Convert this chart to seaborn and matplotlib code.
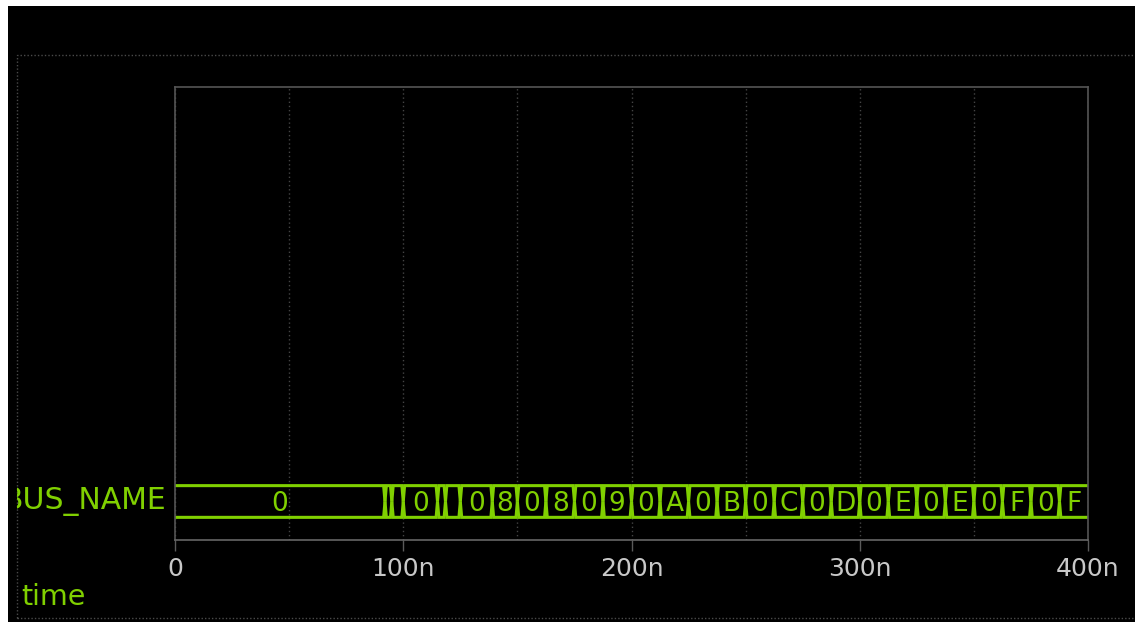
import numpy as np
import pandas as pd
import matplotlib
matplotlib.use("Agg")
import matplotlib.pyplot as plt
import seaborn as sns
from matplotlib.patches import Rectangle

# ---- data ----
signal_name = "BUS_NAME"
axis_name = "time"
seg_starts = [0, 92, 95, 100, 115, 118.5, 125, 139, 150, 162.5, 175, 187.5, 200,
              212.5, 225, 237.5, 250, 262.5, 275, 287.5, 300, 312.5, 325, 337.5,
              350, 362.5, 375, 387.5]
seg_values = ["0", "1", "2", "0", "3", "4", "0", "8", "0", "8", "0", "9", "0",
              "A", "0", "B", "0", "C", "0", "D", "0", "E", "0", "E",
              "0", "F", "0", "F"]
t_end = 400
tick_values = [0, 100, 200, 300, 400]
tick_labels = ["0", "100n", "200n", "300n", "400n"]
grid_minor = [50, 150, 250, 350]

# ---- style ----
GREEN = "#80d000"
sns.set_theme(style="dark")
plt.rcParams["font.family"] = ["DejaVu Sans"]

W, H, DPI = 1135, 622, 100
fig = plt.figure(figsize=(W / DPI, H / DPI), dpi=DPI, facecolor="white")

# black canvas (white margin on top / left as in reference)
fig.patches.append(Rectangle((8 / W, 0), (W - 8) / W, (H - 6) / H,
                             transform=fig.transFigure, facecolor="black",
                             edgecolor="none", zorder=-10))
# dotted outer frame
fig.patches.append(Rectangle((17 / W, 4 / H), (1140 - 17) / W, (567 - 4) / H,
                             transform=fig.transFigure, fill=False,
                             edgecolor="#4a4a4a", linestyle=(0, (1, 1.5)),
                             linewidth=1.0, zorder=-5))

ax_l, ax_r, ax_t, ax_b = 175, 1088, 87, 540
ax = fig.add_axes([ax_l / W, (H - ax_b) / H, (ax_r - ax_l) / W, (ax_b - ax_t) / H])
ax.set_facecolor("none")

LO, HI = 1.0, 2.4
MID = (LO + HI) / 2
d = 0.6

rows = []
ends = seg_starts[1:] + [t_end]
for i, (t0, t1) in enumerate(zip(seg_starts, ends)):
    first = i == 0
    last = i == len(seg_starts) - 1
    for part, lvl in (("top", HI), ("bot", LO)):
        pts = []
        if first:
            pts.append((t0, lvl))
        else:
            pts += [(t0, MID), (t0 + d, lvl)]
        if last:
            pts.append((t1, lvl))
        else:
            pts += [(t1 - d, lvl), (t1, MID)]
        for k, (x, y) in enumerate(pts):
            rows.append({"unit": f"{i}_{part}", "order": k, "x": x, "y": y})
df = pd.DataFrame(rows)

sns.lineplot(data=df, x="x", y="y", units="unit", estimator=None, sort=False,
             color=GREEN, linewidth=2.2, ax=ax, legend=False,
             solid_joinstyle="miter", solid_capstyle="butt")

for t0, t1, v in zip(seg_starts, ends, seg_values):
    if t1 - t0 >= 10:
        ax.text((t0 + t1) / 2, MID, v, ha="center", va="center_baseline",
                fontsize=19, color=GREEN)

ax.set_xlim(0, t_end)
ax.set_ylim(0, 20)
ax.set_xlabel("")
ax.set_ylabel("")
ax.set_yticks([])
ax.set_xticks(tick_values)
ax.set_xticklabels(tick_labels)
ax.set_xticks(grid_minor, minor=True)
ax.tick_params(axis="x", which="major", direction="out", length=8, width=1,
               color="#5a5a5a", labelcolor="#c8c8c8", labelsize=18, pad=4,
               bottom=True)
ax.tick_params(axis="x", which="minor", length=0, bottom=False)
ax.grid(True, axis="x", which="both", color="#444444", linestyle=(0, (1, 2)),
        linewidth=1.0)
ax.grid(False, axis="y")
for s in ax.spines.values():
    s.set_visible(True)
    s.set_color("#555555")
    s.set_linewidth(1.2)
ax.spines["bottom"].set_color("#666666")

# label axes for the signal name (clipped at the dotted frame)
lab = fig.add_axes([17 / W, (H - ax_b) / H, (ax_l - 17) / W, (ax_b - ax_t) / H])
lab.set_axis_off()
lab.set_xlim(17, ax_l)
lab.set_ylim(0, 20)
lab.text(166, MID + 0.17, signal_name, ha="right", va="center_baseline",
         fontsize=21.5, color=GREEN, clip_on=True)

fig.text(21 / W, 1 - 597 / H, axis_name, ha="left", va="center",
         fontsize=20.5, color=GREEN)

fig.savefig("out.png", dpi=DPI, facecolor="white")
